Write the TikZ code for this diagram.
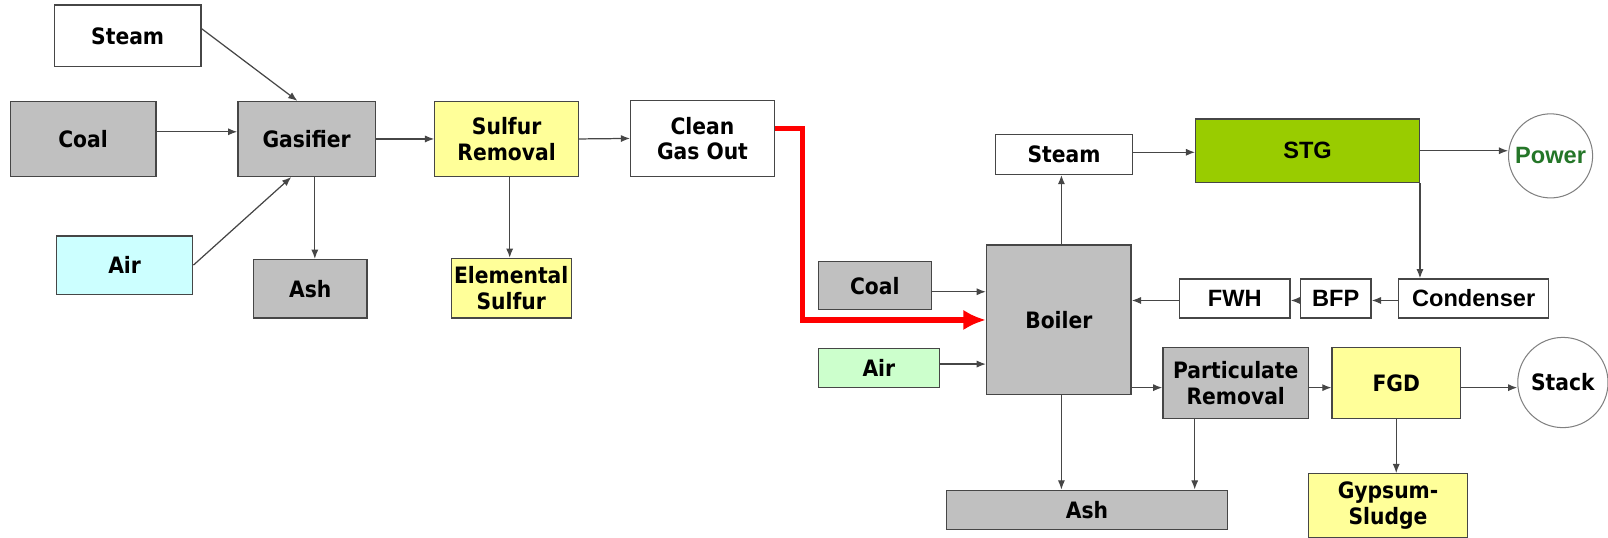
\documentclass[tikz,border=0pt]{standalone}
\usepackage{fontspec}
\setmainfont{Liberation Sans}
\newfontfamily\tahoma{DejaVu Sans Condensed}
\usetikzlibrary{arrows.meta}
\definecolor{boxgray}{RGB}{192,192,192}
\definecolor{boxyellow}{RGB}{255,255,153}
\definecolor{boxcyan}{RGB}{204,255,255}
\definecolor{boxgreen}{RGB}{204,255,204}
\definecolor{stggreen}{RGB}{153,204,0}
\definecolor{powergreen}{RGB}{36,118,40}
\definecolor{linegray}{RGB}{70,70,70}
\tikzset{
  unit/.style={draw=linegray, line width=1.3pt, align=center, inner sep=2pt,
    font=\tahoma\bfseries\fontsize{22}{25}\selectfont},
  arialunit/.style={unit, font=\bfseries\fontsize{23}{26}\selectfont},
  endpoint/.style={circle, draw=gray, line width=1pt, fill=white,
    font=\bfseries\fontsize{23}{26}\selectfont},
  flow/.style={draw=linegray, line width=1.2pt, -{Latex[length=9pt,width=7pt]}},
  gasline/.style={draw=red, line width=5pt, -{Latex[length=22pt,width=20pt]}}
}
\begin{document}
\begin{tikzpicture}[x=1pt,y=-1pt]
  \useasboundingbox (0,0) rectangle (1568,524);
  %gassificazione
  \node[unit, minimum width=143pt, minimum height=60pt] (steamA) at (124.5,35) {Steam};
  \node[unit, fill=boxgray, minimum width=142pt, minimum height=73pt] (coalA) at (81,135.5) {Coal};
  \node[unit, fill=boxgray, minimum width=134pt, minimum height=73pt] (gasifier) at (299,135.5) {Gasifier};
  \node[unit, fill=boxcyan, minimum width=133pt, minimum height=57pt] (airA) at (121.5,258.5) {Air};
  \node[unit, fill=boxgray, minimum width=111pt, minimum height=57pt] (ashA) at (302.5,281.5) {Ash};
  \node[unit, fill=boxyellow, minimum width=140pt, minimum height=73pt] (sulfur) at (494,135.5) {Sulfur\\Removal};
  \node[unit, fill=boxyellow, minimum width=117pt, minimum height=58pt] (elemental) at (498.5,281) {Elemental\\Sulfur};
  \node[unit, fill=white, minimum width=140pt, minimum height=74pt] (cleangas) at (685,135) {Clean\\Gas Out};
  %caldaia
  \node[unit, fill=boxgray, minimum width=141pt, minimum height=146pt] (boiler) at (1032.5,312) {Boiler};
  \node[unit, fill=boxgray, minimum width=110pt, minimum height=47pt] (coalB) at (853,278.5) {Coal};
  \node[unit, fill=boxgreen, minimum width=118pt, minimum height=38pt] (airB) at (857,359) {Air};
  \node[unit, minimum width=133pt, minimum height=39pt] (steamB) at (1037.5,150.5) {Steam};
  \node[arialunit, fill=stggreen, minimum width=218pt, minimum height=62pt] (stg) at (1275,147) {STG};
  \node[endpoint, text=powergreen, minimum size=82pt, inner sep=0pt] (power) at (1512,152) {Power};
  \node[arialunit, minimum width=108pt, minimum height=38pt] (fwh) at (1204,291) {FWH};
  \node[arialunit, minimum width=69pt, minimum height=38pt] (bfp) at (1302.5,291) {BFP};
  \node[arialunit, minimum width=146pt, minimum height=38pt] (condenser) at (1437,291) {Condenser};
  %fumi
  \node[unit, fill=boxgray, minimum width=142pt, minimum height=69pt] (partic) at (1205,373.5) {Particulate\\Removal};
  \node[unit, fill=boxyellow, minimum width=125pt, minimum height=69pt] (fgd) at (1361.5,373.5) {FGD};
  \node[endpoint, font=\tahoma\bfseries\fontsize{22}{25}\selectfont, minimum size=88pt, inner sep=0pt] (stack) at (1524,373) {Stack};
  \node[unit, fill=boxgray, minimum width=274pt, minimum height=38pt] (ashB) at (1060,497) {Ash};
  \node[unit, fill=boxyellow, minimum width=155pt, minimum height=62pt] (gypsum) at (1353.5,493) {Gypsum-\\Sludge};
  %flussi
  \draw[flow] ([yshift=7pt]steamA.east) -- ([xshift=-9pt]gasifier.north);
  \draw[flow] ([yshift=7pt]coalA.east) -- ([yshift=7pt]gasifier.west);
  \draw[flow] (airA.east) -- ([xshift=-15pt]gasifier.south);
  \draw[flow] ([xshift=8pt]gasifier.south) -- ([xshift=8pt]gasifier.south |- ashA.north);
  \draw[flow] (gasifier.east) -- (sulfur.west);
  \draw[flow] ([xshift=3pt]sulfur.south) -- ([xshift=3pt]sulfur.south |- elemental.north);
  \draw[flow] (sulfur.east) -- (cleangas.west);
  \draw[gasline] ([yshift=10pt]cleangas.east) -- ++(27,0) |- (boiler.west);
  \draw[flow] ([yshift=-6pt]coalB.east) -- ([yshift=-6pt]coalB.east -| boiler.west);
  \draw[flow] ([yshift=4pt]airB.east) -- ([yshift=4pt]airB.east -| boiler.west);
  \draw[flow] ([xshift=2.5pt]boiler.north) -- ([xshift=2.5pt]boiler.north |- steamB.south);
  \draw[flow] ([yshift=2pt]steamB.east) -- ([yshift=2pt]steamB.east -| stg.west);
  \draw[flow] (stg.east) -- (stg.east -| power.west);
  \draw[flow] (stg.south east) -- (stg.south east |- condenser.north);
  \draw[flow] ([yshift=-2pt]condenser.west) -- ([yshift=-2pt]bfp.east);
  \draw[flow] ([yshift=-2pt]bfp.west) -- ([yshift=-2pt]fwh.east);
  \draw[flow] ([yshift=-2pt]fwh.west) -- ([yshift=-2pt]fwh.west -| boiler.east);
  \draw[flow] ([yshift=-4.5pt]partic.west -| boiler.east) -- ([yshift=-4.5pt]partic.west);
  \draw[flow] ([yshift=-4.5pt]partic.east) -- ([yshift=-4.5pt]fgd.west);
  \draw[flow] ([yshift=-4.5pt]fgd.east) -- ([yshift=-4.5pt]fgd.east -| stack.west);
  \draw[flow] (fgd.south) -- (fgd.south |- gypsum.north);
  \draw[flow] ([xshift=2.5pt]boiler.south) -- ([xshift=2.5pt]boiler.south |- ashB.north);
  \draw[flow] ([xshift=-40pt]partic.south) -- ([xshift=-40pt]partic.south |- ashB.north);
\end{tikzpicture}
\end{document}
